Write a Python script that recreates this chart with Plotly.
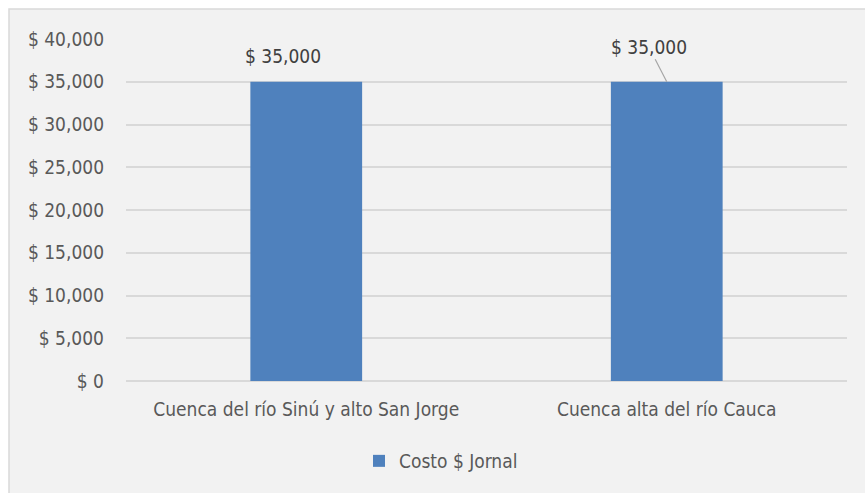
import plotly.graph_objects as go

categories = ["Cuenca del río Sinú y alto San Jorge", "Cuenca alta del río Cauca"]
values = [35000, 35000]
series_name = "Costo $ Jornal"
tick_vals = [0, 5000, 10000, 15000, 20000, 25000, 30000, 35000, 40000]
tick_text = ["$ 0", "$ 5,000", "$ 10,000", "$ 15,000", "$ 20,000", "$ 25,000", "$ 30,000", "$ 35,000", "$ 40,000"]
value_labels = ["$ 35,000", "$ 35,000"]

FONT = "Liberation Sans Narrow, Arial Narrow, DejaVu Sans Condensed, sans-serif"
TXT = "#595959"
W, H = 865, 493
L, R, T, B = 126, 18, 39, 112
pw, ph = W - L - R, H - T - B

fig = go.Figure()
fig.add_trace(go.Bar(
    x=categories, y=values, name=series_name,
    marker=dict(color="#4f81bd", line=dict(width=0)),
    width=0.31,
))

# value labels
fig.add_annotation(x=categories[0], y=values[0], text=value_labels[0], showarrow=False,
                   xshift=-23, yshift=26, yanchor="middle",
                   font=dict(family=FONT, size=19, color="#404040"))
fig.add_annotation(x=categories[1], y=values[1], text=value_labels[1], showarrow=True,
                   arrowhead=0, arrowwidth=1.2, arrowcolor="#a6a6a6",
                   ax=-18, ay=-35, standoff=0,
                   font=dict(family=FONT, size=19, color="#404040"))

# chart area background with border
fig.add_shape(type="rect", xref="paper", yref="paper", layer="below",
              x0=(9 - L) / pw, x1=(W + 5 - L) / pw,
              y0=-(H + 5 - T - ph) / ph, y1=(H - B - 9) / ph,
              fillcolor="#f2f2f2", line=dict(color="#d9d9d9", width=1.5))

fig.update_layout(
    width=W, height=H,
    margin=dict(l=L, r=R, t=T, b=B, autoexpand=False),
    paper_bgcolor="white", plot_bgcolor="rgba(0,0,0,0)",
    font=dict(family=FONT, size=19, color=TXT),
    showlegend=True,
    legend=dict(orientation="h", x=(441 - L) / pw, xanchor="center",
                y=-(461 - T - ph) / ph, yanchor="middle",
                font=dict(family=FONT, size=19, color=TXT),
                bgcolor="rgba(0,0,0,0)", itemwidth=30),
    xaxis=dict(showgrid=False, showline=False, ticks="", tickfont=dict(size=19, color=TXT),
               ticklabelstandoff=15, automargin=False),
    yaxis=dict(range=[0, 40000], tickvals=tick_vals, ticktext=tick_text,
               showgrid=True, gridcolor="#d9d9d9", gridwidth=1.5,
               zeroline=True, zerolinecolor="#d9d9d9", zerolinewidth=1.5,
               showline=False, ticks="", tickfont=dict(size=19, color=TXT),
               ticklabelstandoff=21, automargin=False),
    bargap=0.69,
)

fig.write_html("out.html", config={"displayModeBar": False},
               post_script="document.body.style.margin='0';document.body.style.overflow='hidden';")
